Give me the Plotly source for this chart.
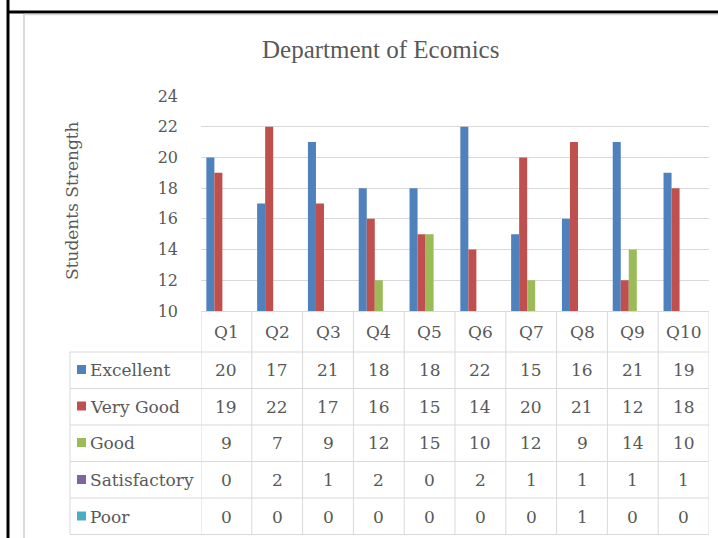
import plotly.graph_objects as go

categories = ["Q1", "Q2", "Q3", "Q4", "Q5", "Q6", "Q7", "Q8", "Q9", "Q10"]
series_names = ["Excellent", "Very Good", "Good", "Satisfactory", "Poor"]
excellent = [20, 17, 21, 18, 18, 22, 15, 16, 21, 19]
very_good = [19, 22, 17, 16, 15, 14, 20, 21, 12, 18]
good = [9, 7, 9, 12, 15, 10, 12, 9, 14, 10]
satisfactory = [0, 2, 1, 2, 0, 2, 1, 1, 1, 1]
poor = [0, 0, 0, 0, 0, 0, 0, 1, 0, 0]
y_ticks = [10, 12, 14, 16, 18, 20, 22, 24]

series_values = [excellent, very_good, good, satisfactory, poor]
colors = ["#4f81bd", "#c0504d", "#9bbb59", "#8064a2", "#4bacc6"]

W, H = 718, 538
L, R, T, B = 201, 9, 96, 227
PW, PH = W - L - R, H - T - B

def px(xpix):
    return (xpix - L) / PW

def py(ypix):
    return (H - B - ypix) / PH

TXT = "#595959"
GRID = "#d9d9d9"
FONT = "'DejaVu Serif', serif"
TFONT = "'Liberation Serif', 'Times New Roman', serif"

fig = go.Figure()
for name, vals, c in zip(series_names, series_values, colors):
    fig.add_trace(go.Bar(x=categories, y=vals, name=name, marker=dict(color=c, line=dict(width=0))))

shapes = []
annotations = []

# outer frame lines (black) and chart area border (gray)
shapes.append(dict(type="line", xref="paper", yref="paper", x0=px(8), x1=px(8), y0=py(0), y1=py(538),
                   line=dict(color="black", width=3)))
shapes.append(dict(type="line", xref="paper", yref="paper", x0=px(8), x1=px(718), y0=py(12), y1=py(12),
                   line=dict(color="black", width=3)))
shapes.append(dict(type="line", xref="paper", yref="paper", x0=px(24), x1=px(24), y0=py(14), y1=py(538),
                   line=dict(color=GRID, width=2)))
shapes.append(dict(type="line", xref="paper", yref="paper", x0=px(24), x1=px(718), y0=py(14.5), y1=py(14.5),
                   line=dict(color=GRID, width=1.5)))

# data table
row_lines = [352, 388.5, 425, 461.5, 498, 534.5]
row_centers = [370, 406.5, 443, 480, 516.5]
header_center = 331.5
for yl in row_lines:
    shapes.append(dict(type="line", xref="paper", yref="paper", x0=px(70), x1=1, y0=py(yl), y1=py(yl),
                       line=dict(color=GRID, width=1)))
shapes.append(dict(type="line", xref="paper", yref="paper", x0=px(70), x1=px(70), y0=py(352), y1=py(534.5),
                   line=dict(color=GRID, width=1)))
for i in range(len(categories) + 1):
    shapes.append(dict(type="line", xref="x", yref="paper", x0=i - 0.5, x1=i - 0.5, y0=py(311), y1=py(534.5),
                       line=dict(color=GRID, width=1)))

for i, cat in enumerate(categories):
    annotations.append(dict(x=cat, y=py(header_center), xref="x", yref="paper", text=cat, showarrow=False,
                            font=dict(family=FONT, size=17, color=TXT), xanchor="center", yanchor="middle"))
for r, (name, vals, c) in enumerate(zip(series_names, series_values, colors)):
    yc = row_centers[r]
    shapes.append(dict(type="rect", xref="paper", yref="paper", x0=px(77), x1=px(86), y0=py(yc - 5), y1=py(yc + 4),
                       fillcolor=c, line=dict(width=0)))
    annotations.append(dict(x=px(88), y=py(yc), xref="paper", yref="paper", text=name, showarrow=False,
                            font=dict(family=FONT, size=17, color=TXT), xanchor="left", yanchor="middle"))
    for cat, v in zip(categories, vals):
        annotations.append(dict(x=cat, y=py(yc), xref="x", yref="paper", text=str(v), showarrow=False,
                                font=dict(family=FONT, size=17, color=TXT), xanchor="center", yanchor="middle"))

# title and axis title
annotations.append(dict(x=px(380), y=py(50), xref="paper", yref="paper", text="Department of Ecomics",
                        showarrow=False, font=dict(family=TFONT, size=25, color=TXT),
                        xanchor="center", yanchor="middle"))
annotations.append(dict(x=px(72), y=py(201), xref="paper", yref="paper", text="Students Strength",
                        showarrow=False, textangle=-90, font=dict(family=FONT, size=17, color=TXT),
                        xanchor="center", yanchor="middle"))

fig.update_layout(
    width=W, height=H,
    margin=dict(l=L, r=R, t=T, b=B, pad=0),
    paper_bgcolor="white", plot_bgcolor="white",
    barmode="group", bargap=0.21, bargroupgap=0,
    showlegend=False,
    shapes=shapes, annotations=annotations,
    xaxis=dict(range=[-0.5, 9.5], showticklabels=False, showgrid=False, zeroline=False,
               showline=True, linecolor=GRID, linewidth=1, ticks=""),
    yaxis=dict(range=[10, 24], tickvals=y_ticks, showgrid=True, gridcolor=GRID, gridwidth=1,
               zeroline=False, showline=False, ticks="", ticklabelstandoff=22,
               tickfont=dict(family=FONT, size=16, color=TXT)),
)

fig.write_html("out.html", config={"displayModeBar": False},
               post_script="document.body.style.margin='0px';document.body.style.overflow='hidden';")
